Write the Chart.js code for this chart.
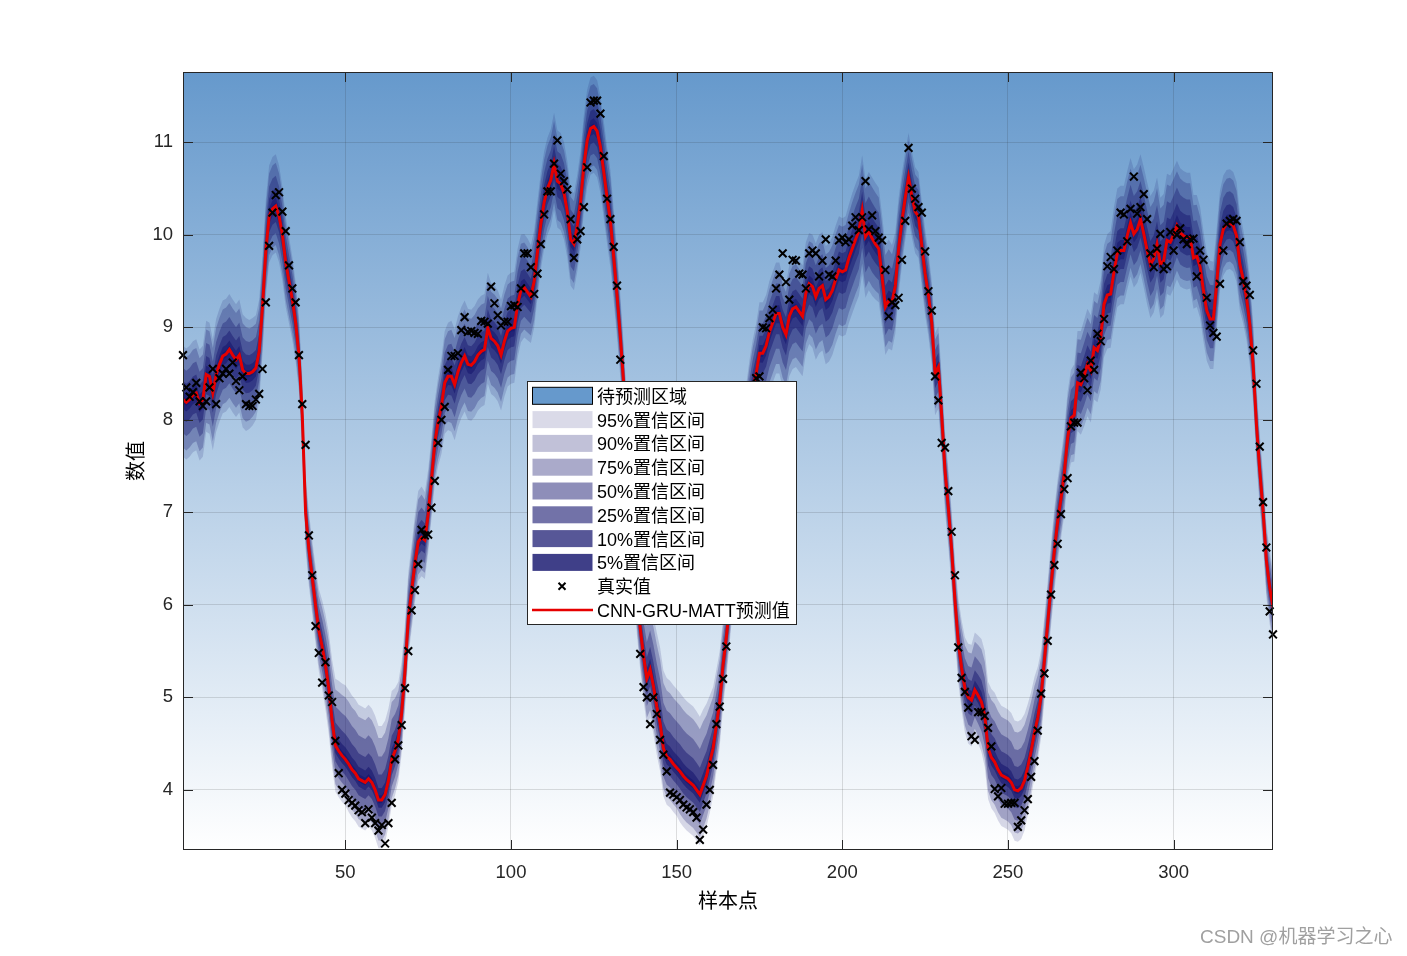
<!DOCTYPE html>
<html>
<head>
<meta charset="utf-8">
<script src="https://cdn.jsdelivr.net/npm/chart.js@4.4.1/dist/chart.umd.min.js"></script>
<style>
    html, body { margin: 0; padding: 0; background: #fff; }
    #wrap { width: 1407px; height: 956px; position: relative; }
</style>
</head>
<body>
<div id="wrap"><canvas id="chart"></canvas></div>
<script>
// Prediction (red line), one value per sample 1..330
const pred = [
    8.22, 8.19, 8.22, 8.27, 8.29, 8.18, 8.22, 8.49, 8.47, 8.29,
    8.49, 8.60, 8.69, 8.71, 8.76, 8.70, 8.65, 8.70, 8.54, 8.50,
    8.50, 8.52, 8.56, 8.74, 9.23, 9.83, 10.20, 10.28, 10.31, 10.20,
    10.00, 9.70, 9.50, 9.30, 9.05, 8.70, 8.05, 7.00, 6.60, 6.30,
    6.00, 5.72, 5.55, 5.35, 5.10, 4.75, 4.48, 4.42, 4.37, 4.33,
    4.28, 4.22, 4.18, 4.12, 4.10, 4.08, 4.12, 4.08, 4.00, 3.89,
    3.89, 3.95, 4.10, 4.33, 4.42, 4.55, 4.83, 5.28, 5.85, 6.15,
    6.45, 6.68, 6.73, 6.70, 6.98, 7.35, 7.75, 7.98, 8.15, 8.40,
    8.47, 8.47, 8.38, 8.52, 8.62, 8.69, 8.60, 8.59, 8.63, 8.70,
    8.74, 8.76, 8.99, 8.88, 8.85, 8.80, 8.70, 8.85, 8.96, 8.99,
    9.00, 9.25, 9.40, 9.43, 9.38, 9.33, 9.50, 9.82, 10.12, 10.35,
    10.50, 10.59, 10.77, 10.58, 10.55, 10.45, 10.25, 9.95, 9.90, 10.10,
    10.36, 10.75, 11.02, 11.15, 11.17, 11.12, 10.95, 10.68, 10.40, 10.15,
    9.76, 9.35, 8.90, 8.40, 7.80, 7.20, 6.60, 6.10, 5.75, 5.45,
    5.20, 5.30, 5.12, 4.90, 4.72, 4.45, 4.36, 4.33, 4.28, 4.24,
    4.20, 4.15, 4.11, 4.08, 4.05, 4.00, 3.95, 4.05, 4.15, 4.30,
    4.45, 4.70, 4.95, 5.35, 5.65, 6.00, 6.40, 6.80, 7.20, 7.60,
    7.90, 8.15, 8.35, 8.50, 8.72, 8.72, 8.80, 8.95, 9.05, 9.15,
    9.15, 9.00, 8.92, 9.12, 9.20, 9.22, 9.17, 9.12, 9.37, 9.47,
    9.44, 9.33, 9.42, 9.45, 9.30, 9.33, 9.40, 9.52, 9.62, 9.60,
    9.62, 9.75, 9.85, 9.95, 10.04, 10.26, 9.98, 10.04, 9.96, 9.90,
    9.85, 9.55, 9.22, 9.29, 9.27, 9.45, 9.85, 10.15, 10.40, 10.62,
    10.42, 10.25, 10.20, 9.88, 9.58, 9.35, 9.05, 8.50, 8.57, 8.05,
    7.45, 7.05, 6.60, 6.05, 5.60, 5.32, 5.10, 5.00, 4.97, 5.08,
    5.02, 4.95, 4.80, 4.45, 4.35, 4.30, 4.22, 4.16, 4.14, 4.12,
    4.08, 4.00, 3.99, 4.02, 4.10, 4.25, 4.42, 4.62, 4.78, 5.01,
    5.40, 5.80, 6.21, 6.58, 6.90, 7.15, 7.42, 7.80, 8.02, 8.05,
    8.40, 8.38, 8.48, 8.60, 8.53, 8.78, 8.75, 8.89, 9.25, 9.35,
    9.36, 9.60, 9.80, 9.83, 9.83, 9.99, 10.13, 10.01, 10.06, 10.17,
    10.01, 9.83, 9.68, 9.74, 9.90, 9.68, 9.72, 9.94, 9.92, 10.00,
    10.10, 10.02, 9.99, 9.97, 9.97, 9.75, 9.77, 9.65, 9.40, 9.18,
    9.09, 9.09, 9.47, 9.90, 10.06, 10.12, 10.13, 10.10, 9.99, 9.68,
    9.52, 9.32, 9.03, 8.60, 7.95, 7.45, 7.02, 6.48, 6.19, 5.97
];

// True values (black crosses)
const truth = [
    8.70, 8.35, 8.25, 8.30, 8.40, 8.20, 8.15, 8.20, 8.35, 8.55,
    8.17, 8.45, 8.50, 8.55, 8.50, 8.62, 8.42, 8.32, 8.47, 8.17,
    8.15, 8.15, 8.22, 8.28, 8.55, 9.27, 9.88, 10.24, 10.43, 10.46,
    10.25, 10.04, 9.67, 9.42, 9.27, 8.70, 8.17, 7.73, 6.75, 6.32,
    5.77, 5.48, 5.16, 5.38, 5.02, 4.95, 4.53, 4.18, 4.00, 3.96,
    3.89, 3.86, 3.83, 3.78, 3.76, 3.64, 3.79, 3.70, 3.64, 3.56,
    3.62, 3.42, 3.64, 3.86, 4.33, 4.48, 4.70, 5.10, 5.50, 5.94,
    6.16, 6.44, 6.81, 6.75, 6.76, 7.05, 7.34, 7.75, 8.00, 8.14,
    8.54, 8.69, 8.69, 8.72, 8.97, 9.11, 8.95, 8.96, 8.94, 8.93,
    9.07, 9.06, 9.04, 9.44, 9.26, 9.13, 9.02, 9.06, 9.06, 9.23,
    9.24, 9.22, 9.42, 9.80, 9.80, 9.65, 9.36, 9.58, 9.90, 10.22,
    10.47, 10.47, 10.77, 11.02, 10.66, 10.58, 10.49, 10.17, 9.75, 9.95,
    10.04, 10.30, 10.73, 11.43, 11.45, 11.45, 11.31, 10.85, 10.39, 10.17,
    9.87, 9.45, 8.65, 8.30, 7.70, 7.10, 6.50, 6.00, 5.47, 5.11,
    5.00, 4.71, 5.00, 4.82, 4.54, 4.38, 4.20, 3.97, 3.95, 3.92,
    3.89, 3.84, 3.81, 3.79, 3.76, 3.70, 3.46, 3.57, 3.84, 4.00,
    4.27, 4.71, 4.90, 5.20, 5.55, 5.90, 6.30, 6.70, 7.10, 7.50,
    7.80, 8.10, 8.30, 8.45, 8.47, 9.00, 8.99, 9.10, 9.19, 9.42,
    9.57, 9.80, 9.49, 9.30, 9.73, 9.72, 9.58, 9.57, 9.42, 9.80,
    9.83, 9.80, 9.55, 9.72, 9.95, 9.57, 9.55, 9.72, 9.94, 9.97,
    9.92, 9.95, 10.10, 10.19, 10.05, 10.19, 10.58, 10.06, 10.21, 10.04,
    9.97, 9.94, 9.62, 9.12, 9.27, 9.24, 9.32, 9.73, 10.15, 10.94,
    10.50, 10.39, 10.30, 10.24, 9.82, 9.39, 9.18, 8.47, 8.21, 7.75,
    7.70, 7.23, 6.79, 6.32, 5.54, 5.21, 5.06, 4.89, 4.58, 4.54,
    4.84, 4.84, 4.80, 4.67, 4.47, 4.01, 3.93, 4.02, 3.85, 3.85,
    3.86, 3.86, 3.60, 3.67, 3.78, 3.90, 4.14, 4.31, 4.64, 5.04,
    5.26, 5.61, 6.11, 6.43, 6.66, 6.98, 7.25, 7.37, 7.93, 7.97,
    7.97, 8.51, 8.45, 8.32, 8.64, 8.54, 8.93, 8.85, 9.09, 9.66,
    9.76, 9.63, 9.83, 10.24, 10.22, 9.93, 10.28, 10.63, 10.23, 10.30,
    10.44, 10.17, 9.80, 9.65, 9.85, 10.01, 9.63, 9.66, 10.03, 9.83,
    10.00, 10.07, 9.95, 9.90, 9.95, 9.96, 9.55, 9.83, 9.73, 9.32,
    9.02, 8.94, 8.90, 9.47, 9.83, 10.12, 10.15, 10.17, 10.15, 9.92,
    9.50, 9.45, 9.35, 8.75, 8.39, 7.71, 7.11, 6.62, 5.93, 5.68
];

// Half-width of the 95% interval above / below the prediction
const spreadUp = [
    0.58, 0.58, 0.58, 0.58, 0.58, 0.58, 0.58, 0.58, 0.58, 0.58,
    0.60, 0.60, 0.60, 0.60, 0.60, 0.60, 0.60, 0.60, 0.60, 0.60,
    0.58, 0.58, 0.57, 0.56, 0.55, 0.55, 0.55, 0.56, 0.56, 0.55,
    0.52, 0.50, 0.48, 0.46, 0.44, 0.42, 0.40, 0.40, 0.40, 0.40,
    0.42, 0.45, 0.50, 0.55, 0.60, 0.66, 0.72, 0.76, 0.78, 0.80,
    0.80, 0.80, 0.80, 0.80, 0.80, 0.80, 0.80, 0.80, 0.80, 0.80,
    0.80, 0.80, 0.78, 0.74, 0.68, 0.62, 0.56, 0.52, 0.50, 0.50,
    0.52, 0.55, 0.55, 0.52, 0.48, 0.46, 0.46, 0.48, 0.52, 0.56,
    0.58, 0.60, 0.60, 0.60, 0.60, 0.60, 0.60, 0.60, 0.60, 0.60,
    0.60, 0.60, 0.60, 0.60, 0.60, 0.60, 0.60, 0.60, 0.60, 0.60,
    0.60, 0.60, 0.60, 0.58, 0.58, 0.56, 0.55, 0.55, 0.55, 0.55,
    0.55, 0.55, 0.55, 0.55, 0.55, 0.55, 0.55, 0.55, 0.55, 0.55,
    0.55, 0.55, 0.55, 0.55, 0.55, 0.55, 0.55, 0.55, 0.55, 0.55,
    0.52, 0.48, 0.45, 0.42, 0.40, 0.40, 0.42, 0.48, 0.55, 0.62,
    0.68, 0.72, 0.76, 0.80, 0.82, 0.84, 0.85, 0.85, 0.85, 0.85,
    0.85, 0.85, 0.85, 0.85, 0.85, 0.85, 0.84, 0.82, 0.78, 0.72,
    0.66, 0.60, 0.55, 0.50, 0.46, 0.45, 0.45, 0.45, 0.45, 0.46,
    0.48, 0.50, 0.52, 0.54, 0.55, 0.55, 0.55, 0.55, 0.55, 0.55,
    0.55, 0.55, 0.55, 0.55, 0.55, 0.55, 0.55, 0.55, 0.55, 0.55,
    0.56, 0.58, 0.58, 0.58, 0.58, 0.58, 0.58, 0.58, 0.58, 0.58,
    0.58, 0.58, 0.60, 0.60, 0.60, 0.60, 0.62, 0.64, 0.66, 0.66,
    0.66, 0.67, 0.67, 0.66, 0.62, 0.58, 0.55, 0.52, 0.50, 0.48,
    0.48, 0.48, 0.48, 0.48, 0.48, 0.46, 0.45, 0.44, 0.44, 0.42,
    0.42, 0.42, 0.42, 0.44, 0.48, 0.52, 0.55, 0.58, 0.60, 0.62,
    0.65, 0.68, 0.70, 0.72, 0.74, 0.75, 0.75, 0.75, 0.75, 0.75,
    0.75, 0.75, 0.75, 0.74, 0.72, 0.68, 0.64, 0.60, 0.55, 0.50,
    0.48, 0.46, 0.46, 0.46, 0.46, 0.46, 0.48, 0.50, 0.52, 0.55,
    0.56, 0.58, 0.60, 0.60, 0.60, 0.60, 0.60, 0.62, 0.64, 0.66,
    0.68, 0.70, 0.70, 0.70, 0.70, 0.70, 0.70, 0.70, 0.70, 0.70,
    0.72, 0.74, 0.74, 0.74, 0.72, 0.72, 0.72, 0.72, 0.72, 0.72,
    0.70, 0.70, 0.70, 0.70, 0.70, 0.68, 0.66, 0.65, 0.64, 0.63,
    0.63, 0.62, 0.60, 0.58, 0.58, 0.58, 0.58, 0.58, 0.58, 0.56,
    0.54, 0.52, 0.50, 0.46, 0.42, 0.40, 0.40, 0.40, 0.40, 0.40
];

const spreadDown = [
    0.62, 0.62, 0.62, 0.62, 0.62, 0.62, 0.62, 0.62, 0.62, 0.62,
    0.62, 0.62, 0.62, 0.62, 0.62, 0.62, 0.62, 0.62, 0.62, 0.62,
    0.60, 0.58, 0.56, 0.54, 0.52, 0.50, 0.50, 0.50, 0.50, 0.50,
    0.50, 0.48, 0.46, 0.44, 0.42, 0.40, 0.40, 0.40, 0.40, 0.40,
    0.42, 0.44, 0.46, 0.48, 0.50, 0.50, 0.50, 0.50, 0.50, 0.50,
    0.52, 0.52, 0.52, 0.52, 0.52, 0.52, 0.52, 0.52, 0.52, 0.52,
    0.52, 0.52, 0.50, 0.50, 0.48, 0.46, 0.44, 0.42, 0.42, 0.42,
    0.42, 0.42, 0.42, 0.42, 0.42, 0.42, 0.44, 0.48, 0.52, 0.55,
    0.58, 0.60, 0.60, 0.60, 0.60, 0.60, 0.60, 0.60, 0.60, 0.60,
    0.60, 0.60, 0.60, 0.60, 0.60, 0.60, 0.60, 0.60, 0.60, 0.60,
    0.60, 0.58, 0.56, 0.54, 0.52, 0.50, 0.50, 0.50, 0.50, 0.50,
    0.50, 0.50, 0.50, 0.50, 0.50, 0.50, 0.50, 0.50, 0.50, 0.50,
    0.50, 0.50, 0.50, 0.50, 0.50, 0.50, 0.50, 0.50, 0.50, 0.50,
    0.48, 0.46, 0.44, 0.42, 0.40, 0.40, 0.40, 0.42, 0.45, 0.48,
    0.50, 0.52, 0.52, 0.52, 0.52, 0.52, 0.52, 0.52, 0.52, 0.52,
    0.55, 0.55, 0.55, 0.55, 0.55, 0.55, 0.55, 0.55, 0.55, 0.55,
    0.52, 0.50, 0.48, 0.46, 0.44, 0.42, 0.42, 0.42, 0.42, 0.44,
    0.46, 0.50, 0.55, 0.60, 0.62, 0.64, 0.65, 0.65, 0.65, 0.65,
    0.65, 0.65, 0.65, 0.65, 0.65, 0.65, 0.65, 0.65, 0.65, 0.65,
    0.66, 0.68, 0.70, 0.70, 0.70, 0.70, 0.70, 0.70, 0.70, 0.70,
    0.70, 0.70, 0.70, 0.70, 0.70, 0.68, 0.66, 0.64, 0.62, 0.60,
    0.58, 0.55, 0.52, 0.52, 0.52, 0.52, 0.50, 0.48, 0.46, 0.45,
    0.45, 0.45, 0.45, 0.45, 0.45, 0.45, 0.45, 0.45, 0.45, 0.45,
    0.44, 0.42, 0.42, 0.42, 0.44, 0.46, 0.48, 0.50, 0.50, 0.50,
    0.52, 0.54, 0.55, 0.55, 0.55, 0.55, 0.55, 0.55, 0.55, 0.55,
    0.55, 0.55, 0.55, 0.55, 0.54, 0.52, 0.50, 0.48, 0.46, 0.45,
    0.44, 0.44, 0.44, 0.44, 0.44, 0.44, 0.45, 0.46, 0.48, 0.50,
    0.52, 0.54, 0.55, 0.56, 0.56, 0.56, 0.56, 0.56, 0.57, 0.58,
    0.58, 0.58, 0.58, 0.58, 0.58, 0.58, 0.58, 0.58, 0.58, 0.58,
    0.58, 0.58, 0.58, 0.58, 0.58, 0.58, 0.58, 0.58, 0.58, 0.58,
    0.58, 0.58, 0.57, 0.56, 0.55, 0.55, 0.55, 0.55, 0.55, 0.54,
    0.54, 0.54, 0.52, 0.50, 0.50, 0.50, 0.50, 0.50, 0.50, 0.50,
    0.48, 0.46, 0.44, 0.42, 0.40, 0.40, 0.40, 0.40, 0.40, 0.40
];

const xTicks = [50, 100, 150, 200, 250, 300];
const yTicks = [4, 5, 6, 7, 8, 9, 10, 11];

// Confidence levels, outer first
const bandLabels = ["95%置信区间", "90%置信区间", "75%置信区间", "50%置信区间", "25%置信区间", "10%置信区间", "5%置信区间"];
const bandZ = [1.96, 1.645, 1.15, 0.674, 0.319, 0.126, 0.063];
const bandAlpha = [0.16, 0.27, 0.37, 0.49, 0.61, 0.73, 0.835];

const samples = pred.map((_, i) => i + 1);

const LATIN = '"Liberation Sans", Arial, "Noto Sans CJK SC", sans-serif';
const CJK = '"Noto Sans CJK SC", sans-serif';
const NAVY = "25, 25, 112";

function buildDatasets() {
    const sets = [];
    sets.push({
        type: "scatter",
        label: "真实值",
        data: samples.map((x, i) => ({ x: x, y: truth[i] })),
        pointStyle: "crossRot",
        pointRadius: 5.5,
        borderWidth: 2,
        borderColor: "#000",
        backgroundColor: "#000",
        showLine: false,
        clip: false
    });
    sets.push({
        label: "CNN-GRU-MATT预测值",
        data: samples.map((x, i) => ({ x: x, y: pred[i] })),
        borderColor: "#e60000",
        borderWidth: 3,
        pointRadius: 0,
        fill: false,
        tension: 0
    });
    bandZ.forEach((z, k) => {
        const f = z / 1.96;
        sets.push({
            label: bandLabels[k],
            data: samples.map((x, i) => ({ x: x, y: pred[i] + spreadUp[i] * f })),
            borderColor: "transparent",
            borderWidth: 0,
            pointRadius: 0,
            fill: "+1",
            backgroundColor: `rgba(${NAVY}, ${bandAlpha[k]})`
        });
        sets.push({
            label: bandLabels[k] + " lower",
            data: samples.map((x, i) => ({ x: x, y: pred[i] - spreadDown[i] * f })),
            borderColor: "transparent",
            borderWidth: 0,
            pointRadius: 0,
            fill: false
        });
    });
    return sets;
}

// Gradient background of the plot area
const backdrop = {
    id: "backdrop",
    beforeDraw(chart) {
        const { ctx, chartArea: a } = chart;
        ctx.save();
        ctx.fillStyle = "#fff";
        ctx.fillRect(0, 0, chart.width, chart.height);
        const g = ctx.createLinearGradient(0, a.top, 0, a.bottom);
        g.addColorStop(0, "#6699cc");
        g.addColorStop(1, "#ffffff");
        ctx.fillStyle = g;
        ctx.fillRect(a.left, a.top, a.right - a.left, a.bottom - a.top);
        ctx.restore();
    }
};

// Axis box, inner ticks, legend and watermark
const frame = {
    id: "frame",
    afterDraw(chart) {
        const { ctx, chartArea: a, scales } = chart;
        ctx.save();
        ctx.strokeStyle = "#262626";
        ctx.lineWidth = 1;
        ctx.strokeRect(a.left + 0.5, a.top + 0.5, a.right - a.left - 1, a.bottom - a.top - 1);
        ctx.beginPath();
        xTicks.forEach(v => {
            const px = Math.round(scales.x.getPixelForValue(v)) + 0.5;
            ctx.moveTo(px, a.bottom); ctx.lineTo(px, a.bottom - 10);
            ctx.moveTo(px, a.top); ctx.lineTo(px, a.top + 10);
        });
        yTicks.forEach(v => {
            const py = Math.round(scales.y.getPixelForValue(v)) + 0.5;
            ctx.moveTo(a.left, py); ctx.lineTo(a.left + 10, py);
            ctx.moveTo(a.right, py); ctx.lineTo(a.right - 10, py);
        });
        ctx.stroke();

        // legend
        const lx = 527.5, ly = 381.5, lw = 269, lh = 243;
        ctx.fillStyle = "#fff";
        ctx.fillRect(lx, ly, lw, lh);
        ctx.strokeStyle = "#262626";
        ctx.strokeRect(lx, ly, lw, lh);
        const rows = ["待预测区域"].concat(bandLabels, ["真实值", "CNN-GRU-MATT预测值"]);
        ctx.font = "18px " + LATIN;
        ctx.textBaseline = "middle";
        ctx.textAlign = "left";
        rows.forEach((txt, r) => {
            const cy = 395.8 + r * 23.8;
            if (r === 0) {
                ctx.fillStyle = "#6699cc";
                ctx.fillRect(532.5, cy - 8.5, 60, 17);
                ctx.strokeStyle = "#000";
                ctx.strokeRect(532.5, cy - 8.5, 60, 17);
            } else if (r <= bandLabels.length) {
                ctx.fillStyle = `rgba(${NAVY}, ${bandAlpha[r - 1]})`;
                ctx.fillRect(532.5, cy - 8.5, 60, 17);
            } else if (txt === "真实值") {
                ctx.strokeStyle = "#000";
                ctx.lineWidth = 2;
                ctx.beginPath();
                ctx.moveTo(558.5, cy - 3.5); ctx.lineTo(565.5, cy + 3.5);
                ctx.moveTo(565.5, cy - 3.5); ctx.lineTo(558.5, cy + 3.5);
                ctx.stroke();
            } else {
                ctx.strokeStyle = "#e60000";
                ctx.lineWidth = 2.5;
                ctx.beginPath();
                ctx.moveTo(532, cy); ctx.lineTo(593, cy);
                ctx.stroke();
            }
            ctx.fillStyle = "#000";
            ctx.fillText(txt, 597, cy + 2);
        });

        // watermark
        ctx.fillStyle = "#a0a0a0";
        ctx.font = "19px " + LATIN;
        ctx.fillText("CSDN @机器学习之心", 1200, 938);
        ctx.restore();
    }
};

const tickFont = { family: LATIN, size: 18.5 };

new Chart(document.getElementById("chart").getContext("2d"), {
    type: "line",
    data: { datasets: buildDatasets() },
    options: {
        responsive: true,
        maintainAspectRatio: false,
        animation: false,
        layout: { padding: { top: 72, right: 134, bottom: 0, left: 0 } },
        plugins: {
            legend: { display: false },
            tooltip: { enabled: false },
            filler: { propagate: false }
        },
        scales: {
            x: {
                type: "linear",
                min: 1,
                max: 330,
                afterFit: s => { s.height = 106; },
                afterBuildTicks: s => { s.ticks = xTicks.map(v => ({ value: v })); },
                grid: { color: "rgba(38, 38, 38, 0.15)", drawTicks: false },
                border: { display: false },
                ticks: { padding: 12, color: "#262626", font: tickFont, maxRotation: 0, autoSkip: false },
                title: { display: true, text: "样本点", color: "#000", font: { family: CJK, size: 20 }, padding: { top: 0, bottom: 44 } }
            },
            y: {
                min: 3.35,
                max: 11.76,
                afterFit: s => { s.width = 183; },
                afterBuildTicks: s => { s.ticks = yTicks.map(v => ({ value: v })); },
                grid: { color: "rgba(38, 38, 38, 0.15)", drawTicks: false },
                border: { display: false },
                ticks: { padding: 10, color: "#262626", font: tickFont },
                title: { display: true, text: "数值", color: "#000", font: { family: CJK, size: 20 }, padding: { top: 123, bottom: 0 } }
            }
        }
    },
    plugins: [backdrop, frame]
});
</script>
</body>
</html>
